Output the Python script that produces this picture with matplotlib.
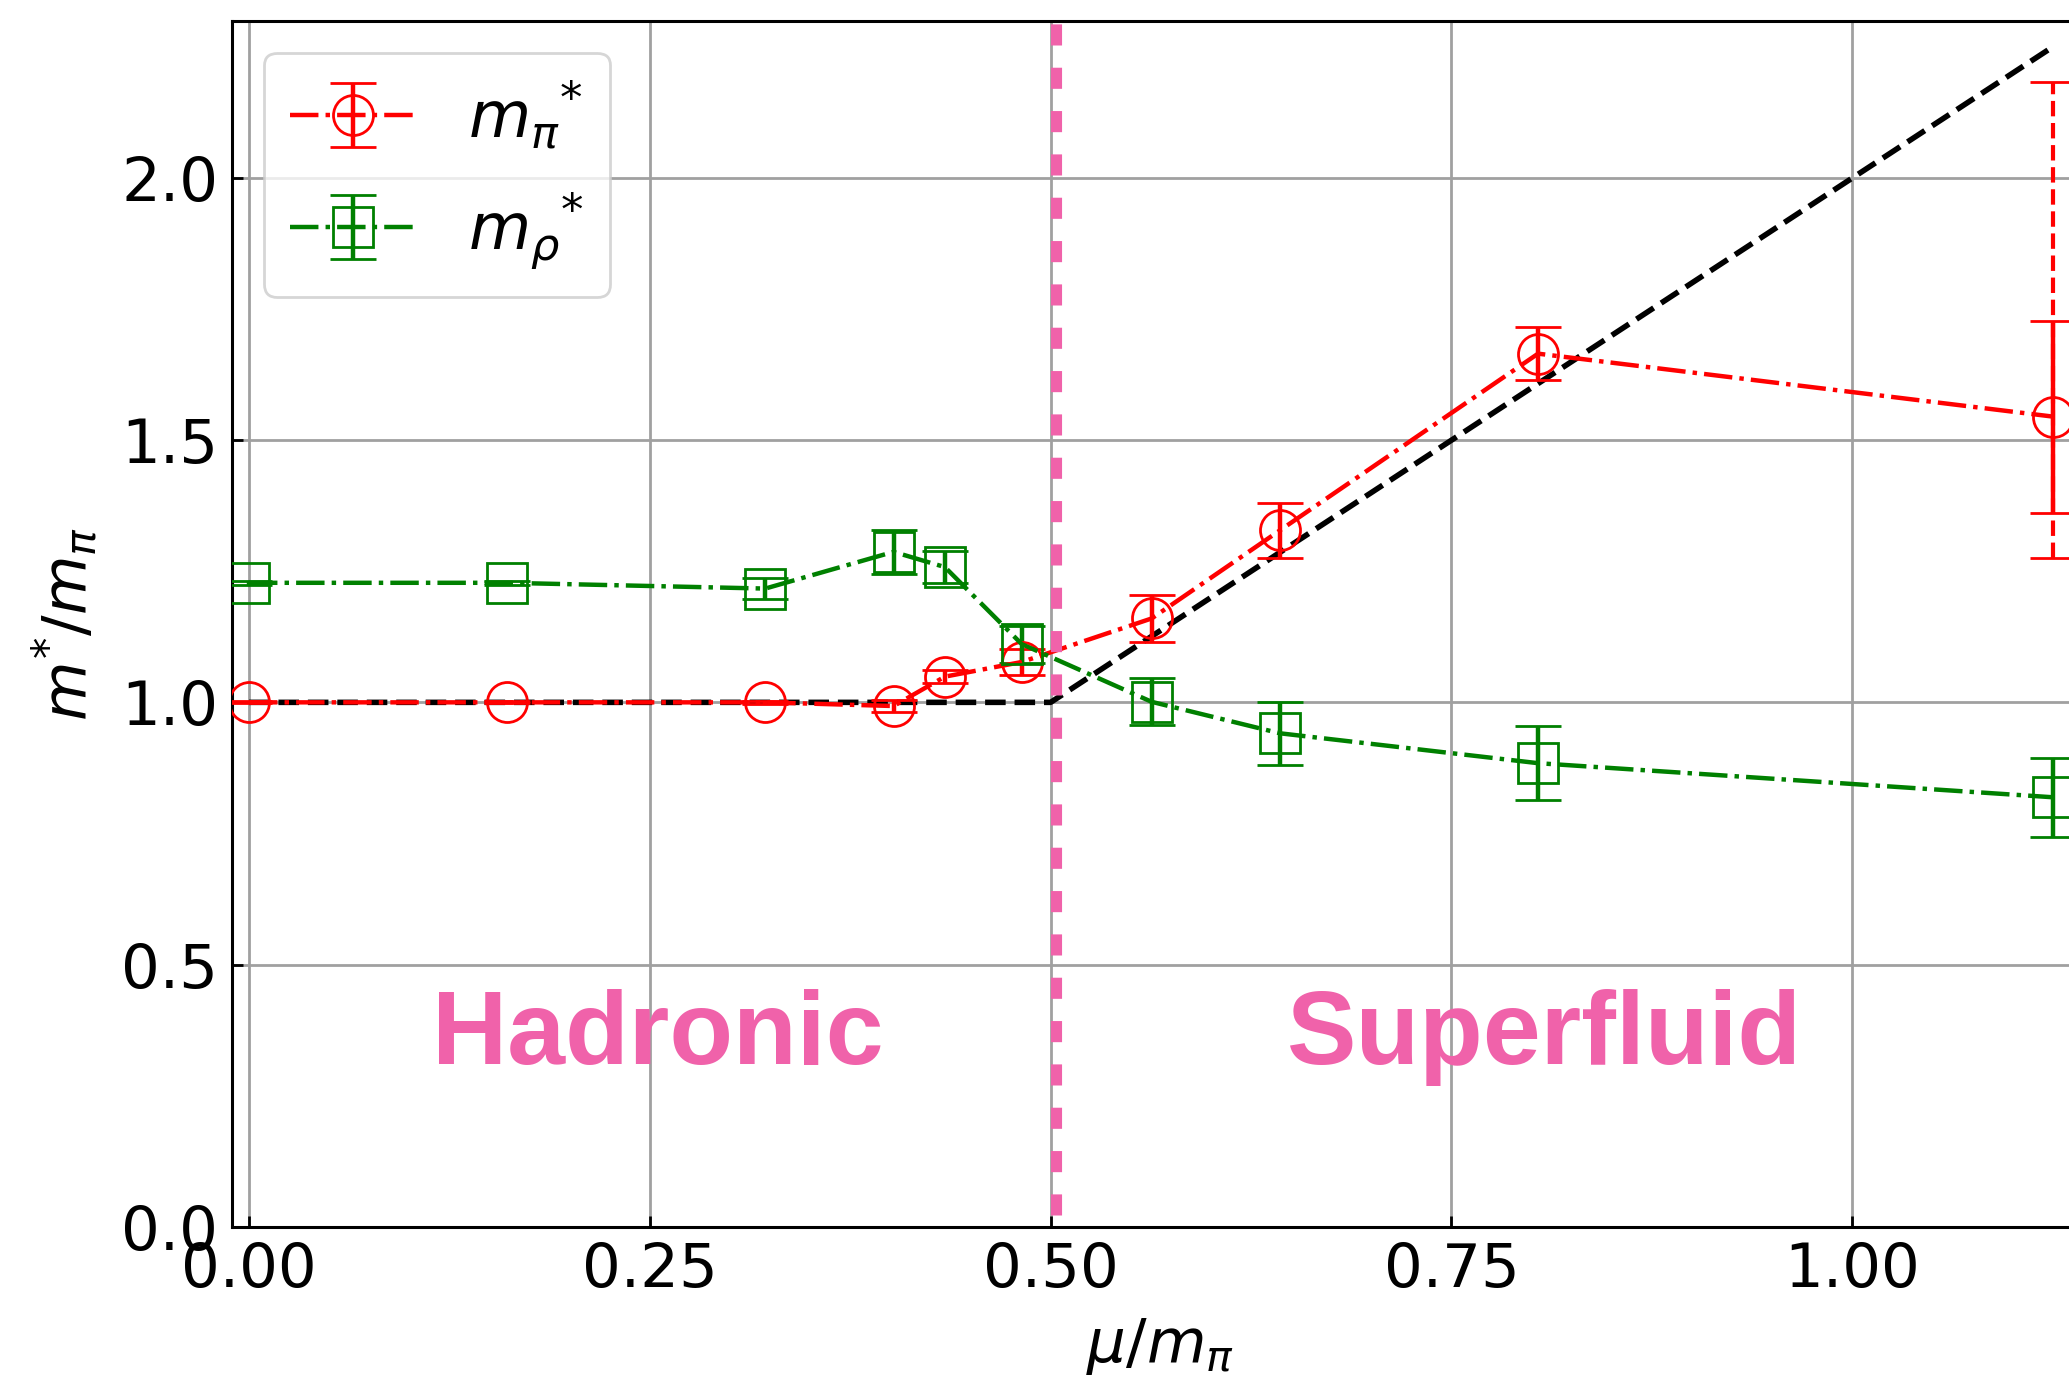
import numpy as np
import matplotlib
matplotlib.use("Agg")
import matplotlib.pyplot as plt

# chemical potential in units of the pion mass
mu = [0.0, 0.161, 0.322, 0.402, 0.434, 0.482, 0.563, 0.643, 0.804, 1.125]

# effective pion mass and statistical errors
m_pi = [1.0, 1.0, 1.0, 0.993, 1.049, 1.077, 1.160, 1.328, 1.665, 1.545]
m_pi_err = [0.002, 0.002, 0.003, 0.012, 0.012, 0.025, 0.045, 0.052, 0.050, 0.183]

# systematic band on the largest-mu pion point (lower, upper)
m_pi_sys_lo = [0.270]
m_pi_sys_hi = [0.638]

# effective rho mass and errors
m_rho = [1.228, 1.228, 1.217, 1.287, 1.258, 1.111, 1.001, 0.941, 0.884, 0.819]
m_rho_err = [0.004, 0.004, 0.020, 0.042, 0.030, 0.035, 0.045, 0.060, 0.070, 0.075]

# free-theory reference curve  m/m_pi = max(1, 2 mu/m_pi)
mu_free = np.array([0.0, 0.5, 1.125])
m_free = np.maximum(1.0, 2.0 * mu_free)

mu_c = 0.5034          # onset of superfluidity

xticks = [0.0, 0.25, 0.5, 0.75, 1.0]
yticks = [0.0, 0.5, 1.0, 1.5, 2.0]

PINK = "#f062aa"

fig = plt.figure(figsize=(2069 / 200, 1383 / 200), dpi=200)
ax = fig.add_axes([232 / 2069, 156.3 / 1383, 1856 / 2069, 1206 / 1383])

ax.set_xlim(-0.0106, 1.147)
ax.set_ylim(0.0, 2.3)
ax.set_xticks(xticks)
ax.set_yticks(yticks)
ax.xaxis.set_major_formatter(matplotlib.ticker.FormatStrFormatter("%.2f"))
ax.yaxis.set_major_formatter(matplotlib.ticker.FormatStrFormatter("%.1f"))
ax.tick_params(direction="in", labelsize=22, pad=5, width=1.0, length=4)
ax.grid(True, color="#a0a0a0", lw=1.0, zorder=0)
ax.set_axisbelow(True)
for s in ax.spines.values():
    s.set_linewidth(1.1)

ax.plot(mu_free, m_free, "k--", lw=2.0, zorder=2)

# systematic error of the last pion point
sys_eb = ax.errorbar([mu[-1]], [m_pi[-1]], yerr=[m_pi_sys_lo, m_pi_sys_hi],
                     fmt="none", ecolor="#ff0000", elinewidth=1.5, capsize=8.3,
                     zorder=3)
for lc in sys_eb[2]:
    lc.set_linestyle("--")

ax.errorbar(mu, m_pi, yerr=m_pi_err, fmt="-.o", color="#ff0000", lw=1.6,
            ms=14.4, mfc="none", mew=1.0, capsize=8.3, zorder=4,
            label=r"${m_\pi}^{*}$")
ax.errorbar(mu, m_rho, yerr=m_rho_err, fmt="-.s", color="#008000", lw=1.6,
            ms=14.4, mfc="none", mew=1.0, capsize=8.3, zorder=4,
            label=r"${m_\rho}^{*}$")

ax.plot([mu_c, mu_c], [0.023, 2.317], color=PINK, lw=4.0,
        dashes=(1.9, 2.0), solid_capstyle="butt", dash_capstyle="butt",
        clip_on=False, zorder=5)

ax.text(0.255, 0.311, "Hadronic", color=PINK, fontsize=37.5, fontweight="bold",
        family=["Liberation Sans", "DejaVu Sans"], ha="center", va="baseline",
        zorder=6)
ax.text(0.808, 0.311, "Superfluid", color=PINK, fontsize=37.5, fontweight="bold",
        family=["Liberation Sans", "DejaVu Sans"], ha="center", va="baseline",
        zorder=6)

ax.set_xlabel(r"$\mu/m_\pi$", fontsize=22, labelpad=6)
ax.set_ylabel(r"$m^{*}/m_\pi$", fontsize=22, labelpad=8)

ax.legend(loc="upper left", fontsize=23, labelspacing=0.62)

fig.savefig("out.png", dpi=200)
